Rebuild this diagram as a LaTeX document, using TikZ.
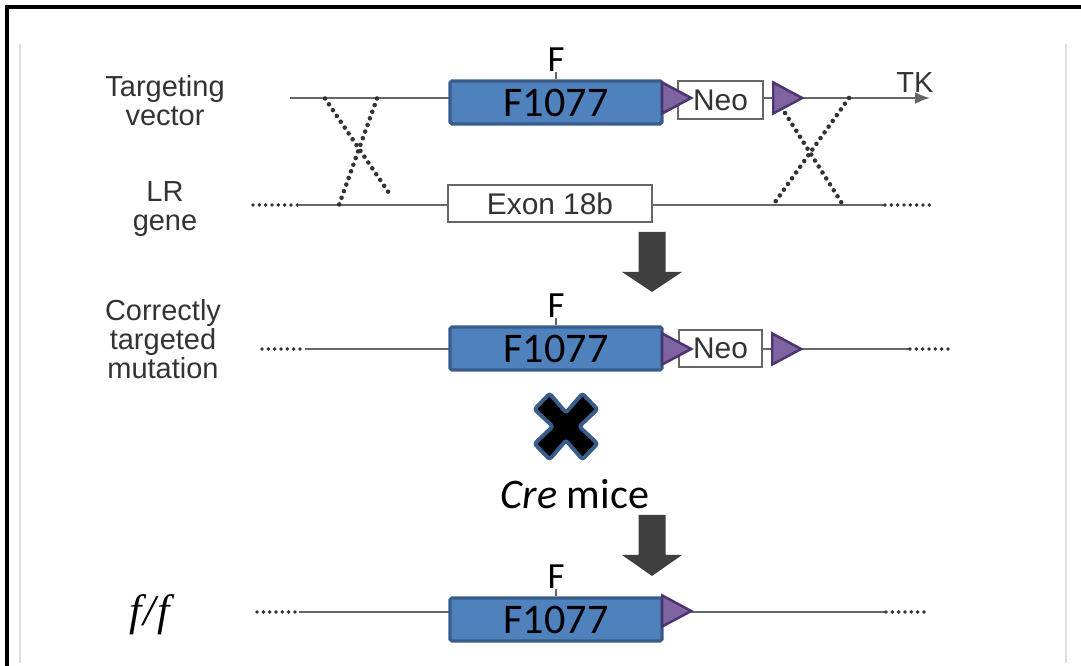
\documentclass[tikz,border=0pt]{standalone}
\usepackage{fontspec}
\setmainfont{Liberation Sans}
\newfontfamily\calibri{Carlito}
\newfontfamily\serifit{Liberation Serif}
\usetikzlibrary{arrows.meta,positioning,shapes.geometric}
\definecolor{azul}{HTML}{4F81BD}
\definecolor{azulosc}{HTML}{385D8A}
\definecolor{lila}{HTML}{8064A2}
\definecolor{lilaosc}{HTML}{4B3470}
\definecolor{gris}{HTML}{666666}
\definecolor{texto}{HTML}{333333}
\definecolor{flecha}{HTML}{3F3F3F}

\begin{document}
\begin{tikzpicture}[line width=1pt,>={Latex[length=3mm,width=2.4mm]},
  gen/.style={draw=gris,line width=1.2pt},
  punt/.style={draw=texto,line width=2.2pt,dash pattern=on 0pt off 3.6pt,line cap=round},
  cruce/.style={draw=texto,line width=2.6pt,dash pattern=on 0pt off 4pt,line cap=round},
  caja/.style={draw=gris,fill=white,line width=1pt,minimum height=0.76cm,inner sep=0pt,text=texto,font=\fontsize{17}{18}\selectfont},
  exon/.style={draw=azulosc,fill=azul,line width=1.8pt,rounded corners=1pt,minimum width=4.24cm,minimum height=0.86cm,inner sep=0pt,font=\calibri\fontsize{24}{26}\selectfont},
  loxp/.style={isosceles triangle,isosceles triangle stretches,draw=lilaosc,fill=lila,line width=1.4pt,minimum width=0.62cm,minimum height=0.58cm,inner sep=0pt},
  etiq/.style={align=center,text=texto,font=\fontsize{16.5}{16.5}\selectfont},
  flab/.style={inner sep=0pt,font=\calibri\fontsize{21}{22}\selectfont}]
  \useasboundingbox (0,0) rectangle (21.62,13.32);
  % marco
  \draw[black,line width=0.08cm] (0.14,0) -- (0.14,13.18) -- (21.62,13.18);
  \draw[black!13,line width=0.6pt] (0.4,0.06) -- (0.4,12.44); \draw[black!13,line width=0.6pt] (21.32,0.06) -- (21.32,12.44);
  % etiquetas
  \node[etiq] (tv) at (3.3,11.3) {Targeting\\vector};
  \node[etiq] (lr) at (3.3,9.14) {LR\\gene};
  \node[etiq] (ctm) at (3.26,6.54) {Correctly\\targeted\\mutation};
  \node[font=\serifit\fontsize{25}{26}\selectfont\itshape] (ff) at (3.0,1.02) {f\kern1pt/\kern1pt f};
  % vector
  \coordinate (v1) at (5.8,11.36); \coordinate (v2) at (18.6,11.36);
  \draw[gen,->] (v1) -- (v2);
  \node[exon] (f1) at (11.12,11.27) {F1077};
  \node[caja,minimum width=1.7cm] (neo1) at (14.41,11.32) {Neo};
  \node[loxp,anchor=west] (lx1) at (13.22,11.36) {};
  \node[loxp,anchor=west] (lx2) at (15.44,11.36) {};
  \node[flab,above=0.14cm of f1] (fa1) {F}; \draw[gen,line width=0.8pt] (fa1) -- (f1);
  \node[etiq] (tk) at (18.3,11.66) {TK};
  % gen LR
  \coordinate (g1) at (5.06,9.22); \coordinate (g2) at (5.98,9.22); \coordinate (g3) at (17.7,9.22); \coordinate (g4) at (18.6,9.22);
  \draw[punt] (g1) -- (g2); \draw[gen] (g2) -- (g3); \draw[punt] (g3) -- (g4);
  \node[caja,minimum width=4.08cm,minimum height=0.74cm] (ex) at (11.0,9.25) {Exon 18b};
  % recombinacion
  \coordinate (ca1) at (6.5,11.35); \coordinate (ca2) at (7.82,9.4); \coordinate (cb1) at (7.54,11.35); \coordinate (cb2) at (6.78,9.22);
  \draw[cruce] (ca1) -- (ca2); \draw[cruce] (cb1) -- (cb2);
  \coordinate (da1) at (15.7,11.06); \coordinate (da2) at (16.86,9.22); \coordinate (db1) at (16.98,11.36); \coordinate (db2) at (15.46,9.22);
  \draw[cruce] (da1) -- (da2); \draw[cruce] (db1) -- (db2);
  % flecha 1
  \fill[flecha] (12.77,8.68) -- (13.31,8.68) -- (13.31,7.88) -- (13.64,7.88) -- (13.04,7.48) -- (12.44,7.88) -- (12.77,7.88) -- cycle;
  % mutacion dirigida
  \coordinate (m1) at (5.24,6.34); \coordinate (m2) at (6.1,6.34); \coordinate (m3) at (18.2,6.34); \coordinate (m4) at (19.04,6.34);
  \draw[punt] (m1) -- (m2); \draw[gen] (m2) -- (m3); \draw[punt] (m3) -- (m4);
  \node[exon] (f2) at (11.12,6.35) {F1077};
  \node[caja,minimum width=1.66cm,minimum height=0.74cm] (neo2) at (14.41,6.35) {Neo};
  \node[loxp,anchor=west] (lx3) at (13.22,6.34) {};
  \node[loxp,anchor=west] (lx4) at (15.42,6.34) {};
  \node[flab,above=0.14cm of f2] (fa2) {F}; \draw[gen,line width=0.8pt] (fa2) -- (f2);
  % cruza
  \begin{scope}[shift={(11.32,4.79)},xscale=0.63,yscale=0.66]
    \filldraw[fill=black,draw=azulosc,line width=2.2pt,rounded corners=1.5pt] (0,0.42) -- (0.52,1) -- (1,0.52) -- (0.42,0) -- (1,-0.52) -- (0.52,-1) -- (0,-0.42) -- (-0.52,-1) -- (-1,-0.52) -- (-0.42,0) -- (-1,0.52) -- (-0.52,1) -- cycle;
  \end{scope}
  \node[font=\calibri\fontsize{24}{26}\selectfont] (cre) at (11.5,3.44) {\textit{Cre} mice};
  % flecha 2
  \fill[flecha] (12.77,3.02) -- (13.31,3.02) -- (13.31,2.22) -- (13.64,2.22) -- (13.04,1.8) -- (12.44,2.22) -- (12.77,2.22) -- cycle;
  % f/f
  \coordinate (n1) at (5.14,1.08); \coordinate (n2) at (5.98,1.08); \coordinate (n3) at (17.72,1.08); \coordinate (n4) at (18.5,1.08);
  \draw[punt] (n1) -- (n2); \draw[gen] (n2) -- (n3); \draw[punt] (n3) -- (n4);
  \node[exon] (f3) at (11.12,0.93) {F1077};
  \node[loxp,anchor=west] (lx5) at (13.22,1.1) {};
  \node[flab,above=0.14cm of f3] (fa3) {F}; \draw[gen,line width=0.8pt] (fa3) -- (f3);
\end{tikzpicture}
\end{document}
